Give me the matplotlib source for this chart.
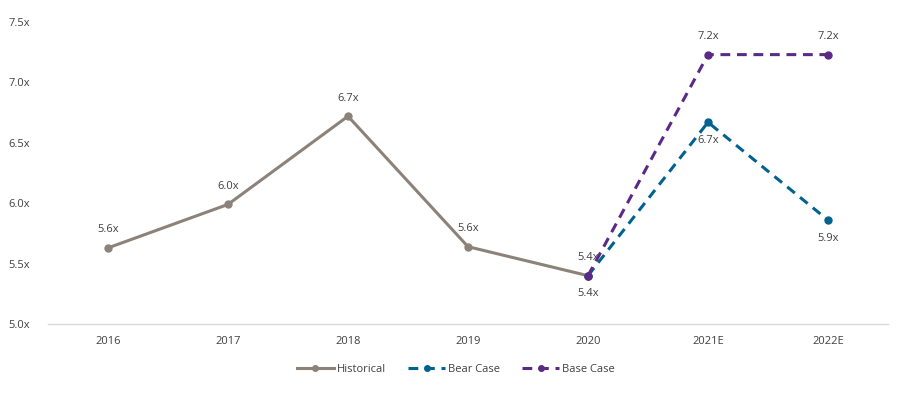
import matplotlib
matplotlib.use("Agg")
import matplotlib.pyplot as plt
import numpy as np

categories = ["2016", "2017", "2018", "2019", "2020", "2021E", "2022E"]
historical = [5.63, 5.99, 6.72, 5.64, 5.40, None, None]
bear_case = [None, None, None, None, 5.40, 6.67, 5.86]
base_case = [None, None, None, None, 5.40, 7.23, 7.23]
y_ticks = [5.0, 5.5, 6.0, 6.5, 7.0, 7.5]

plt.rcParams['font.family'] = ['Open Sans', 'DejaVu Sans']

fig = plt.figure(figsize=(9.12, 3.98), dpi=100)
ax = fig.add_axes([48/912, 74/398, 840/912, 302/398])

x = np.arange(len(categories))

def arr(v):
    return np.array([np.nan if a is None else a for a in v], dtype=float)

c_hist = "#8C8279"
c_bear = "#00628F"
c_base = "#5B2A86"

ax.plot(x, arr(historical), color=c_hist, lw=2.2, marker='o', ms=5, label="Historical", zorder=3)
ax.plot(x, arr(bear_case), color=c_bear, lw=2.2, ls=(0, (3.2, 2.2)), marker='o', ms=5, label="Bear Case", zorder=4)
ax.plot(x, arr(base_case), color=c_base, lw=2.2, ls=(0, (3.2, 2.2)), marker='o', ms=5, label="Base Case", zorder=5)

fs = 8
tc = "#404040"
for i, v in enumerate(historical):
    if v is not None:
        ax.annotate(f"{v:.1f}x", (i, v), xytext=(0, 9), textcoords="offset points",
                    ha="center", va="bottom", fontsize=fs, color=tc)
for i, v in enumerate(bear_case):
    if v is not None:
        ax.annotate(f"{v:.1f}x", (i, v), xytext=(0, -9), textcoords="offset points",
                    ha="center", va="top", fontsize=fs, color=tc)
for i, v in enumerate(base_case):
    if v is not None and i != 4:
        ax.annotate(f"{v:.1f}x", (i, v), xytext=(0, 9), textcoords="offset points",
                    ha="center", va="bottom", fontsize=fs, color=tc)

ax.set_xlim(-0.5, len(categories) - 0.5)
ax.set_ylim(5.0, 7.5)
ax.set_yticks(y_ticks)
ax.set_yticklabels([f"{t:.1f}x" for t in y_ticks])
ax.set_xticks(x)
ax.set_xticklabels(categories)
ax.tick_params(axis='both', length=0, labelsize=fs, labelcolor=tc)
ax.tick_params(axis='x', pad=9)
ax.tick_params(axis='y', pad=13)
for s in ["top", "right", "left"]:
    ax.spines[s].set_visible(False)
ax.spines["bottom"].set_color("#D9D9D9")
ax.spines["bottom"].set_linewidth(1)

leg = fig.legend(loc="center", bbox_to_anchor=(456/912, 1 - 369/398), ncol=3, frameon=False,
                 fontsize=fs, handlelength=3.3, columnspacing=2.0, handletextpad=0.3,
                 markerscale=0.8)
for t in leg.get_texts():
    t.set_color(tc)

fig.savefig("out.png", dpi=100)
